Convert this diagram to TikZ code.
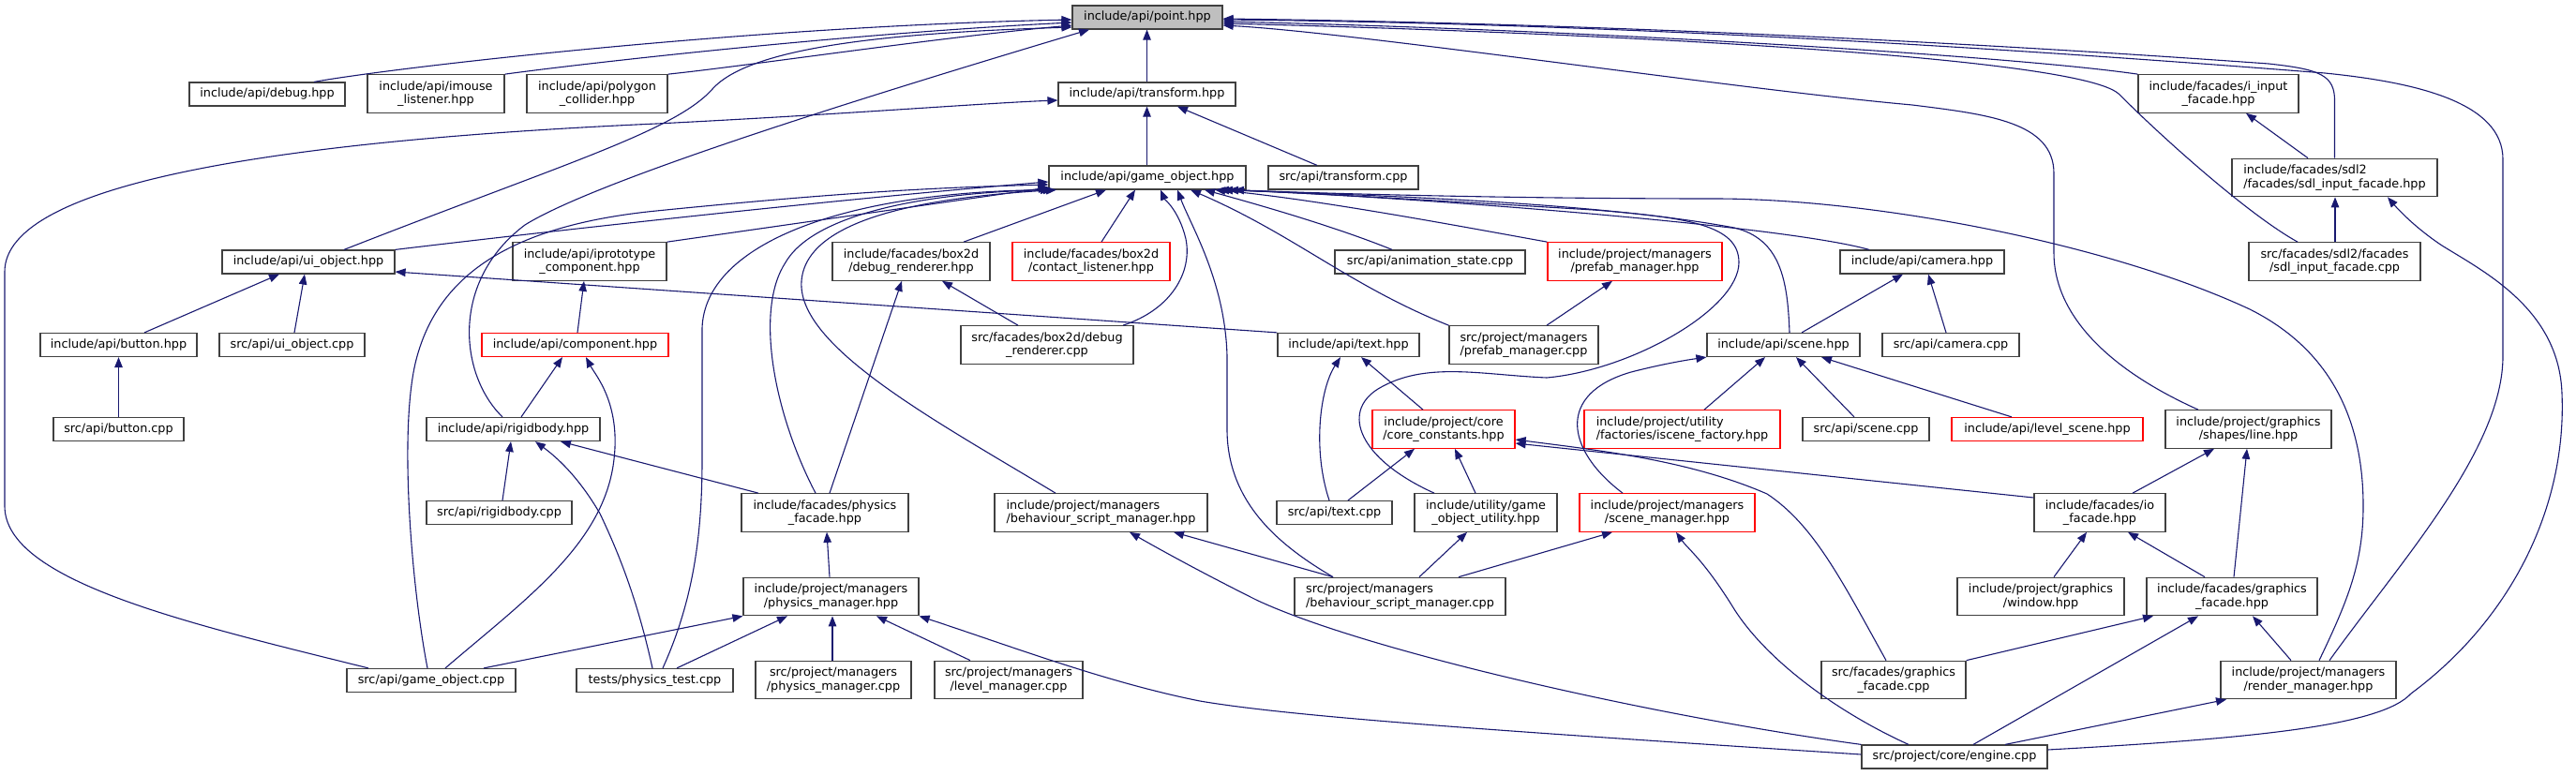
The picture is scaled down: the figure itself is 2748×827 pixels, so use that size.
\documentclass[tikz,border=0pt]{standalone}
\usepackage{fontspec}
\newfontfamily\dvs{DejaVu Sans}
\usetikzlibrary{arrows.meta}
\definecolor{edgec}{HTML}{191970}
\definecolor{gfill}{HTML}{BFBFBF}
\definecolor{bord}{HTML}{404040}
\newcommand\nodefont{\dvs\fontsize{12.8pt}{14.3pt}\selectfont}
\tikzset{
 nd/.style={draw=bord,line width=1.2pt,fill=white,font=\nodefont,inner xsep=6pt,inner ysep=0pt,minimum height=25pt,text height=9.6pt,text depth=3.2pt},
 ndt/.style={draw=bord,line width=1.2pt,fill=white,font=\nodefont,inner xsep=6pt,inner ysep=0pt,minimum height=40.5pt,align=center},
 ndl/.style={ndt,align=left},
 hl/.style={draw=red},
 cur/.style={fill=gfill},
 edg/.style={draw=edgec,line width=1.1pt,-{Triangle[length=11pt,width=8.5pt]}},
}
\begin{document}
\begin{tikzpicture}[x=1pt,y=-1pt]
\useasboundingbox (0,0) rectangle (2748,827);
% ---------------- nodes
\node[nd,cur,minimum width=160pt] (point) at (1224,18.5) {include/api/point.hpp};
\node[nd,minimum width=166pt] (debug) at (285,100.5) {include/api/debug.hpp};
\node[ndt,minimum width=146pt] (imouse) at (465,100) {include/api/imouse\\\_listener.hpp};
\node[ndt,minimum width=150pt] (polygon) at (637,100) {include/api/polygon\\\_collider.hpp};
\node[nd,minimum width=189pt] (transform) at (1223.5,100.5) {include/api/transform.hpp};
\node[ndt,minimum width=171pt] (iinput) at (2366.5,100) {include/facades/i\_input\\\_facade.hpp};
\node[nd,minimum width=210pt] (gohpp) at (1224,189.5) {include/api/game\_object.hpp};
\node[nd,minimum width=160pt] (trcpp) at (1433,189.5) {src/api/transform.cpp};
\node[ndl,minimum width=219pt] (sdlhpp) at (2490.5,189.5) {include/facades/sdl2\\/facades/sdl\_input\_facade.hpp};
\node[nd,minimum width=184pt] (ui) at (329,279.5) {include/api/ui\_object.hpp};
\node[ndt,minimum width=164pt] (iproto) at (629,279) {include/api/iprototype\\\_component.hpp};
\node[ndt,minimum width=168pt] (drh) at (972,279) {include/facades/box2d\\/debug\_renderer.hpp};
\node[ndt,hl,minimum width=168pt] (contact) at (1164,279) {include/facades/box2d\\/contact\_listener.hpp};
\node[nd,minimum width=203pt] (anim) at (1525.5,279.5) {src/api/animation\_state.cpp};
\node[ndt,hl,minimum width=186pt] (prefabhpp) at (1744,279) {include/project/managers\\/prefab\_manager.hpp};
\node[nd,minimum width=175pt] (camhpp) at (2050.5,279.5) {include/api/camera.hpp};
\node[ndt,minimum width=183pt] (sdlcpp) at (2490.5,279) {src/facades/sdl2/facades\\/sdl\_input\_facade.cpp};
\node[nd,minimum width=167pt] (buttonhpp) at (126.5,368) {include/api/button.hpp};
\node[nd,minimum width=155pt] (uicpp) at (311.5,368) {src/api/ui\_object.cpp};
\node[nd,hl,minimum width=199pt] (component) at (613.5,368) {include/api/component.hpp};
\node[ndt,minimum width=184pt] (drc) at (1117,368) {src/facades/box2d/debug\\\_renderer.cpp};
\node[nd,minimum width=151pt] (texthpp) at (1438.5,368) {include/api/text.hpp};
\node[ndt,minimum width=159pt] (prefabcpp) at (1625.5,368) {src/project/managers\\/prefab\_manager.cpp};
\node[nd,minimum width=163pt] (scenehpp) at (1902.5,368) {include/api/scene.hpp};
\node[nd,minimum width=146pt] (camcpp) at (2081,368) {src/api/camera.cpp};
\node[nd,minimum width=139pt] (buttoncpp) at (126.5,458) {src/api/button.cpp};
\node[nd,minimum width=185pt] (rbhpp) at (547.5,458) {include/api/rigidbody.hpp};
\node[ndt,hl,minimum width=152pt] (corec) at (1540,458) {include/project/core\\/core\_constants.hpp};
\node[ndl,hl,minimum width=209pt] (iscene) at (1794.5,458) {include/project/utility\\/factories/iscene\_factory.hpp};
\node[nd,minimum width=135pt] (scenecpp) at (1990.5,458) {src/api/scene.cpp};
\node[nd,hl,minimum width=204pt] (level) at (2184,458) {include/api/level\_scene.hpp};
\node[ndt,minimum width=177pt] (linehpp) at (2398.5,458) {include/project/graphics\\/shapes/line.hpp};
\node[nd,minimum width=155pt] (rbcpp) at (532.5,547) {src/api/rigidbody.cpp};
\node[ndt,minimum width=178pt] (pfhpp) at (880,547) {include/facades/physics\\\_facade.hpp};
\node[ndl,minimum width=227pt] (bsmhpp) at (1174.5,547) {include/project/managers\\/behaviour\_script\_manager.hpp};
\node[nd,minimum width=123pt] (textcpp) at (1423.5,547) {src/api/text.cpp};
\node[ndt,minimum width=152pt] (gou) at (1585,547) {include/utility/game\\\_object\_utility.hpp};
\node[ndt,hl,minimum width=187pt] (scenemgr) at (1778.5,547) {include/project/managers\\/scene\_manager.hpp};
\node[ndt,minimum width=140pt] (io) at (2240,547) {include/facades/io\\\_facade.hpp};
\node[ndt,minimum width=187pt] (pmhpp) at (886.5,636.5) {include/project/managers\\/physics\_manager.hpp};
\node[ndl,minimum width=225pt] (bsmcpp) at (1493.5,636.5) {src/project/managers\\/behaviour\_script\_manager.cpp};
\node[ndt,minimum width=178pt] (window) at (2177,636.5) {include/project/graphics\\/window.hpp};
\node[ndt,minimum width=182pt] (gfhpp) at (2381,636.5) {include/facades/graphics\\\_facade.hpp};
\node[nd,minimum width=180pt] (gocpp) at (460,726) {src/api/game\_object.cpp};
\node[nd,minimum width=167pt] (ptest) at (698.5,726) {tests/physics\_test.cpp};
\node[ndt,minimum width=166pt] (pmcpp) at (889,725.5) {src/project/managers\\/physics\_manager.cpp};
\node[ndt,minimum width=158pt] (lmcpp) at (1076,725.5) {src/project/managers\\/level\_manager.cpp};
\node[ndt,minimum width=154pt] (gfcpp) at (2020,725.5) {src/facades/graphics\\\_facade.cpp};
\node[ndt,minimum width=187pt] (rmhpp) at (2462.5,725.5) {include/project/managers\\/render\_manager.hpp};
\node[nd,minimum width=198pt] (engine) at (2085,807.5) {src/project/core/engine.cpp};
% ---------------- edges into point.hpp
\draw[edg] (debug.north -| 335,0) .. controls (420,72) and (800,28) .. (point.west |- 0,21);
\draw[edg] (imouse.north east) .. controls (620,68) and (900,36) .. (point.west |- 0,24);
\draw[edg] (polygon.north east) .. controls (800,70) and (1000,40) .. (point.west |- 0,27);
\draw[edg] (ui.north -| 367,0) .. controls (600,175) and (720,140) .. (760,95) .. controls (800,50) and (950,35) .. (point.west |- 0,29);
\draw[edg] (rbhpp.north -| 536,0) .. controls (490,400) and (480,300) .. (560,240) .. controls (640,190) and (950,95) .. (point.south -| 1162,0);
\draw[edg] (transform.north) -- (transform.north |- point.south);
\draw[edg] (iinput.north west) .. controls (2150,60) and (1700,32) .. (point.east |- 0,23);
\draw[edg] (sdlcpp.north -| 2451,0) .. controls (2400,230) and (2310,150) .. (2260,100) .. controls (2215,60) and (1700,35) .. (point.east |- 0,25);
\draw[edg] (sdlhpp.north) -- ++(0,-60) .. controls (2491,80) and (2475,74) .. (2420,68) .. controls (2100,45) and (1700,25) .. (point.east |- 0,20);
\draw[edg] (rmhpp.north -| 2485,0) .. controls (2560,600) and (2670,480) .. (2670,380) -- (2670,170) .. controls (2670,110) and (2580,88) .. (2480,78) .. controls (2100,48) and (1700,25) .. (point.east |- 0,21);
\draw[edg] (linehpp.north -| 2345,0) .. controls (2240,390) and (2191,330) .. (2191,270) -- (2191,185) .. controls (2191,130) and (2120,122) .. (2040,112) .. controls (1850,95) and (1450,35) .. (point.east |- 0,27);
% ---------------- edges into transform.hpp
\draw[edg] (gohpp.north -| transform.south) -- (transform.south);
\draw[edg] (trcpp.north -| 1405,0) -- (transform.south -| 1256,0);
\draw[edg] (gocpp.north -| 393,0) .. controls (200,665) and (5,620) .. (5,540) -- (5,290) .. controls (5,195) and (300,150) .. (700,132) .. controls (900,122) and (1050,110) .. (transform.west |- 0,107);
% ---------------- edges into game_object.hpp
\draw[edg] (ui.north east) .. controls (600,245) and (900,212) .. (gohpp.west |- 0,194);
\draw[edg] (iproto.north east) -- (gohpp.west |- 0,200);
\draw[edg] (gocpp.north -| 456,0) .. controls (438,620) and (425,450) .. (445,380) .. controls (470,290) and (550,240) .. (700,225) .. controls (900,205) and (1000,200) .. (gohpp.west |- 0,197);
\draw[edg] (ptest.north -| 707,0) .. controls (740,640) and (749,570) .. (749,490) -- (749,350) .. controls (752,260) and (900,205) .. (gohpp.south -| 1121,0);
\draw[edg] (pfhpp.north -| 870,0) .. controls (825,440) and (805,330) .. (838,280) .. controls (870,225) and (1000,205) .. (gohpp.south -| 1124,0);
\draw[edg] (bsmhpp.north -| 1126,0) .. controls (1000,450) and (850,370) .. (855,300) .. controls (860,230) and (1000,210) .. (gohpp.south -| 1127,0);
\draw[edg] (drh.north -| 1028,0) -- (gohpp.south -| 1180,0);
\draw[edg] (contact.north -| 1175,0) -- (gohpp.south -| 1211,0);
\draw[edg] (drc.north -| 1198,0) .. controls (1250,330) and (1272,290) .. (1265,255) .. controls (1258,225) and (1242,212) .. (gohpp.south -| 1238,0);
\draw[edg] (bsmcpp.north -| 1422,0) .. controls (1370,585) and (1310,540) .. (1309,460) -- (1309,380) .. controls (1307,300) and (1270,240) .. (gohpp.south -| 1256,0);
\draw[edg] (gou.north -| 1530,0) .. controls (1450,490) and (1430,440) .. (1470,415) .. controls (1520,385) and (1580,400) .. (1650,403) .. controls (1740,395) and (1855,330) .. (1855,280) .. controls (1855,240) and (1800,232) .. (1700,224) .. controls (1500,212) and (1380,205) .. (gohpp.south -| 1300,0);
\draw[edg] (scenehpp.north -| 1909,0) .. controls (1907,300) and (1900,255) .. (1850,243) .. controls (1700,215) and (1450,208) .. (gohpp.south -| 1304,0);
\draw[edg] (camhpp.north -| 1994,0) .. controls (1900,240) and (1500,210) .. (gohpp.south -| 1310,0);
\draw[edg] (rmhpp.north -| 2474,0) .. controls (2505,640) and (2521,600) .. (2521,540) .. controls (2521,440) and (2480,370) .. (2400,330) .. controls (2250,260) and (2000,212) .. (1829,212) .. controls (1600,212) and (1400,206) .. (gohpp.south -| 1316,0);
\draw[edg] (prefabhpp.north west) .. controls (1550,240) and (1400,212) .. (gohpp.south -| 1296,0);
\draw[edg] (anim.north -| 1485,0) .. controls (1420,240) and (1330,215) .. (gohpp.south -| 1285,0);
\draw[edg] (prefabcpp.north west) .. controls (1440,305) and (1380,250) .. (gohpp.south -| 1270,0);
% ---------------- ui_object and the left part
\draw[edg] (buttonhpp.north -| 154,0) -- (ui.south -| 298,0);
\draw[edg] (uicpp.north -| 314,0) -- (ui.south -| 325,0);
\draw[edg] (texthpp.north west) -- (ui.east |- 0,290);
\draw[edg] (component.north -| 616,0) -- (iproto.south -| 623,0);
\draw[edg] (rbhpp.north -| 556,0) -- (component.south -| 600,0);
\draw[edg] (gocpp.north -| 475,0) .. controls (560,640) and (645,580) .. (655,490) .. controls (662,430) and (635,400) .. (component.south -| 625,0);
\draw[edg] (buttoncpp.north) -- (buttonhpp.south);
\draw[edg] (rbcpp.north -| 536,0) -- (rbhpp.south -| 545,0);
\draw[edg] (ptest.north -| 696,0) .. controls (680,640) and (660,590) .. (640,548) .. controls (615,505) and (590,485) .. (rbhpp.south -| 571,0);
\draw[edg] (pfhpp.north -| 809,0) -- (rbhpp.south -| 598,0);
\draw[edg] (drc.north -| 1086,0) -- (drh.south -| 1005,0);
\draw[edg] (pfhpp.north -| 885,0) -- (drh.south -| 962,0);
\draw[edg] (pmhpp.north -| 885,0) -- (pfhpp.south -| 882,0);
\draw[edg] (gocpp.north -| 516,0) -- (pmhpp.south west);
\draw[edg] (ptest.north -| 722,0) -- (pmhpp.south -| 840,0);
\draw[edg] (pmcpp.north -| 888,0) -- (pmhpp.south -| 888,0);
\draw[edg] (lmcpp.north -| 1035,0) -- (pmhpp.south -| 935,0);
\draw[edg] (engine.west |- 0,805) .. controls (1600,780) and (1380,765) .. (1280,748) .. controls (1180,728) and (1080,690) .. (pmhpp.south east);
\draw[edg] (bsmcpp.north -| 1422,0) -- (bsmhpp.south -| 1252,0);
\draw[edg] (engine.north west) .. controls (1750,762) and (1450,692) .. (1340,640) .. controls (1280,610) and (1235,585) .. (bsmhpp.south -| 1205,0);
% ---------------- middle and right part
\draw[edg] (prefabcpp.north -| 1650,0) -- (prefabhpp.south -| 1720,0);
\draw[edg] (scenehpp.north -| 1922,0) -- (camhpp.south -| 2030,0);
\draw[edg] (camcpp.north -| 2076,0) -- (camhpp.south -| 2057,0);
\draw[edg] (textcpp.north -| 1418,0) .. controls (1400,480) and (1408,415) .. (texthpp.south -| 1430,0);
\draw[edg] (corec.north -| 1518,0) -- (texthpp.south -| 1452,0);
\draw[edg] (textcpp.north -| 1438,0) -- (corec.south -| 1509,0);
\draw[edg] (gou.north -| 1574,0) -- (corec.south -| 1552,0);
\draw[edg] (gfcpp.north -| 2012,0) .. controls (1965,620) and (1935,560) .. (1885,527) .. controls (1800,490) and (1700,480) .. (corec.east |- 0,469);
\draw[edg] (io.west |- 0,531) -- (corec.east |- 0,473);
\draw[edg] (iscene.north -| 1818,0) -- (scenehpp.south -| 1883,0);
\draw[edg] (scenecpp.north -| 1978,0) -- (scenehpp.south -| 1916,0);
\draw[edg] (level.north -| 2146,0) -- (scenehpp.south -| 1943,0);
\draw[edg] (scenemgr.north -| 1731,0) .. controls (1670,480) and (1660,420) .. (1740,397) .. controls (1775,388) and (1800,384) .. (scenehpp.south west);
\draw[edg] (bsmcpp.north -| 1514,0) -- (gou.south -| 1565,0);
\draw[edg] (bsmcpp.north -| 1556,0) -- (scenemgr.south -| 1720,0);
\draw[edg] (engine.north -| 2036,0) .. controls (1960,760) and (1885,705) .. (1850,650) .. controls (1818,598) and (1800,585) .. (scenemgr.south -| 1788,0);
\draw[edg] (io.north -| 2275,0) -- (linehpp.south -| 2362,0);
\draw[edg] (gfhpp.north -| 2383,0) -- (linehpp.south -| 2397,0);
\draw[edg] (window.north -| 2191,0) -- (io.south -| 2226,0);
\draw[edg] (gfhpp.north -| 2352,0) -- (io.south -| 2270,0);
\draw[edg] (gfcpp.north east) -- (gfhpp.south -| 2297,0);
\draw[edg] (engine.north -| 2105,0) -- (gfhpp.south -| 2345,0);
\draw[edg] (rmhpp.north -| 2444,0) -- (gfhpp.south -| 2403,0);
\draw[edg] (engine.north -| 2139,0) -- (rmhpp.south -| 2375,0);
\draw[edg] (sdlhpp.north -| 2462,0) -- (iinput.south -| 2396,0);
\draw[edg] (sdlcpp.north -| 2491,0) -- (sdlhpp.south -| 2491,0);
\draw[edg] (engine.east |- 0,800) .. controls (2400,788) and (2540,775) .. (2572,740) .. controls (2680,660) and (2738,540) .. (2733,420) .. controls (2730,330) and (2650,290) .. (2605,262) .. controls (2575,242) and (2557,222) .. (sdlhpp.south -| 2547,0);
\end{tikzpicture}
\end{document}
